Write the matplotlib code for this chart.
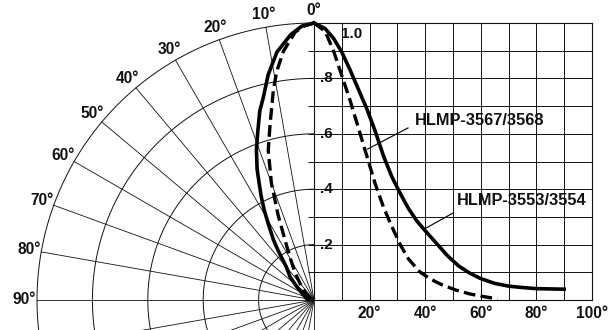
import numpy as np
import matplotlib.pyplot as plt

plt.rcParams['font.family'] = ['Liberation Sans', 'DejaVu Sans']

# relative intensity vs off-axis angle, read from the right-hand (linear) plot
solid_deg = [0, 4, 7, 10, 13, 16, 19, 22, 25, 28, 31, 34, 37, 40, 44, 48,
             52, 56, 60, 65, 70, 75, 80, 85, 90]
solid_val = [1.0, 0.98, 0.945, 0.895, 0.83, 0.76, 0.69, 0.61, 0.52, 0.445,
             0.385, 0.33, 0.285, 0.25, 0.205, 0.16, 0.123, 0.097, 0.077,
             0.06, 0.05, 0.045, 0.041, 0.04, 0.039]
dash_deg = [0, 4, 7, 10, 13, 16, 19, 22, 25, 28, 31, 34, 38, 42, 46, 51,
            56, 60, 66]
dash_val = [1.0, 0.97, 0.9, 0.81, 0.72, 0.62, 0.52, 0.42, 0.335, 0.265,
            0.2, 0.148, 0.102, 0.075, 0.055, 0.036, 0.022, 0.014, 0.004]

# the polar drawing on the left is narrower, read separately
psolid_deg = [0, 2.5, 5, 8.5, 11.5, 14, 16, 18.5, 21, 23.5, 25, 27, 29, 31,
              34, 36, 40, 46, 52, 60, 75, 90]
psolid_val = [1.0, 0.99, 0.962, 0.905, 0.83, 0.755, 0.71, 0.64, 0.58, 0.515,
              0.47, 0.42, 0.37, 0.32, 0.262, 0.22, 0.155, 0.12, 0.08, 0.05,
              0.03, 0.02]
pdash_deg = [0, 2, 4, 7, 9.3, 11, 14, 17, 20, 23, 27, 29, 31, 35, 42, 50,
             60, 66]
pdash_val = [1.0, 0.99, 0.97, 0.905, 0.835, 0.77, 0.655, 0.565, 0.45, 0.33,
             0.215, 0.18, 0.155, 0.118, 0.07, 0.04, 0.02, 0.005]

solid_name = "HLMP-3553/3554"
dash_name = "HLMP-3567/3568"
polar_ticks = [0, 10, 20, 30, 40, 50, 60, 70, 80, 90]
x_ticks = [20, 40, 60, 80, 100]
y_ticks = [0.8, 0.6, 0.4, 0.2]

W, H = 612, 330
cx, cy, R = 314, 300, 277   # pixel centre of polar plot, radius of 1.0
ink = '#111111'

fig = plt.figure(figsize=(W / 100, H / 100), dpi=100)

# ---- polar part (left) ----
axp = fig.add_axes([(cx - R) / W, (H - cy - R) / H, 2 * R / W, 2 * R / H],
                   projection='polar')
axp.set_theta_zero_location('N')
axp.set_theta_direction(1)
axp.set_ylim(0, 1)
axp.axis('off')

th = np.linspace(0, np.pi, 300)
for r in [0.2, 0.4, 0.6, 0.8, 1.0]:
    axp.plot(th, np.full_like(th, r), color=ink, lw=0.7, clip_on=False)
for a in range(10, 181, 10):
    axp.plot([np.deg2rad(a)] * 2, [0, 1], color=ink, lw=0.6, clip_on=False)

for a in polar_ticks:
    axp.text(np.deg2rad(a), 1.045, f"{a}°", ha='center', va='center',
             fontsize=11.2, fontweight='bold', color=ink)

axp.plot(np.deg2rad(psolid_deg), psolid_val, color='k', lw=2.6,
         clip_on=False, solid_capstyle='round')
axp.plot(np.deg2rad(pdash_deg), pdash_val, color='k', lw=2.4,
         ls=(0, (3.5, 1.6)), clip_on=False)

# ---- cartesian part (right) ----
ax = fig.add_axes([cx / W, (H - cy) / H, 278 / W, R / H])
ax.set_facecolor('none')
ax.set_xlim(0, 100)
ax.set_ylim(0, 1)
ax.set_xticks(range(0, 101, 10))
ax.set_yticks(np.arange(0, 1.01, 0.1))
ax.grid(True, color=ink, lw=0.7)
ax.tick_params(labelbottom=False, labelleft=False, bottom=False,
               left=True, length=4, width=0.7, direction='out', color=ink)
for s in ax.spines.values():
    s.set_color(ink)
    s.set_linewidth(0.8)

ax.plot(solid_deg, solid_val, color='k', lw=2.6, clip_on=False)
ax.plot(dash_deg, dash_val, color='k', lw=2.4, ls=(0, (3.5, 1.6)),
        clip_on=False)

ax.text(13.7, 0.962, "1.0", ha='center', va='center', fontsize=11,
        fontweight='bold', color=ink)
for v in y_ticks:
    ax.text(2.3, v, f".{int(round(v * 10))}", ha='left', va='center',
            fontsize=11, fontweight='bold', color=ink)
for d in x_ticks:
    ax.text(d, -0.047, f"{d}°", ha='center', va='center', fontsize=11.2,
            fontweight='bold', color=ink, clip_on=False)

# series labels with leader lines
ax.text(36.3, 0.648, dash_name, ha='left', va='center', fontsize=11.8,
        fontweight='bold', color=ink)
ax.plot([33.8, 19.3], [0.621, 0.545], color=ink, lw=0.9)
ax.text(51.4, 0.359, solid_name, ha='left', va='center', fontsize=11.8,
        fontweight='bold', color=ink)
ax.plot([50.0, 40.0], [0.314, 0.258], color=ink, lw=0.9)

fig.savefig("out.png", dpi=100, facecolor='white')
